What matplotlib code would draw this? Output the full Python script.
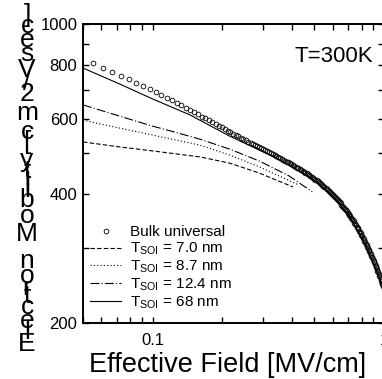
import matplotlib
matplotlib.use("Agg")
import matplotlib.pyplot as plt
from matplotlib.font_manager import FontProperties
from matplotlib.ticker import NullFormatter

plt.rcParams['font.family'] = ['Liberation Sans', 'DejaVu Sans']
plt.rcParams['mathtext.fontset'] = 'custom'
plt.rcParams['mathtext.rm'] = 'Liberation Sans'
plt.rcParams['mathtext.it'] = 'Liberation Sans:italic'

# Bulk universal curve (circles), effective field in MV/cm, mobility in cm2/Vs
bulk_e = [0.055, 0.061, 0.067, 0.073, 0.079, 0.085, 0.091, 0.097, 0.103, 0.109,
          0.115, 0.121, 0.127, 0.133, 0.139, 0.145, 0.151, 0.157, 0.163, 0.169,
          0.175, 0.181, 0.187, 0.193, 0.199, 0.205, 0.211, 0.217, 0.223, 0.229,
          0.235, 0.241, 0.247, 0.253, 0.259, 0.265, 0.271, 0.277, 0.283, 0.289,
          0.295, 0.301, 0.307, 0.313, 0.319, 0.325, 0.331, 0.337, 0.343, 0.349,
          0.355, 0.361, 0.367, 0.373, 0.379, 0.385, 0.391, 0.397, 0.403, 0.409,
          0.415, 0.421, 0.427, 0.433, 0.439, 0.445, 0.451, 0.457, 0.463, 0.469,
          0.475, 0.481, 0.487, 0.493, 0.499, 0.505, 0.511, 0.517, 0.523, 0.529,
          0.535, 0.541, 0.547, 0.553, 0.559, 0.565, 0.571, 0.577, 0.583, 0.589,
          0.595, 0.601, 0.607, 0.613, 0.619, 0.625, 0.631, 0.637, 0.643, 0.649,
          0.655, 0.661, 0.667, 0.673, 0.679, 0.685, 0.691, 0.697, 0.703, 0.709,
          0.715, 0.721, 0.727, 0.733, 0.739, 0.745, 0.751, 0.757, 0.763, 0.769,
          0.775, 0.781, 0.787, 0.793, 0.799, 0.805, 0.811, 0.817, 0.823, 0.829,
          0.835, 0.841, 0.847, 0.853, 0.859, 0.865, 0.871, 0.877, 0.883, 0.889,
          0.895, 0.901, 0.907, 0.913, 0.919, 0.925, 0.931, 0.937, 0.943, 0.949,
          0.955, 0.961, 0.967, 0.973, 0.979, 0.985, 0.991, 0.997]
bulk_mu = [811.0, 790.7, 772.7, 756.7, 742.2, 729.0, 716.9, 705.7, 695.0, 683.6,
           672.9, 663.0, 653.7, 644.9, 636.6, 628.8, 621.4, 614.4, 607.7, 601.3,
           595.2, 589.3, 583.7, 578.4, 573.2, 568.2, 563.5, 558.9, 554.4, 550.1,
           546.0, 542.0, 538.2, 534.5, 531.0, 527.5, 524.2, 521.0, 517.9, 514.8,
           511.9, 509.0, 506.2, 503.5, 500.8, 498.2, 495.7, 493.2, 490.8, 488.3,
           486.0, 483.7, 481.4, 479.1, 476.9, 474.7, 472.5, 470.3, 468.1, 466.0,
           463.9, 461.8, 459.7, 457.6, 455.5, 453.5, 451.4, 449.3, 447.3, 445.2,
           443.1, 441.1, 439.0, 436.9, 434.9, 432.8, 430.7, 428.6, 426.5, 424.4,
           422.3, 420.2, 418.1, 416.0, 413.8, 411.7, 409.5, 407.4, 405.2, 403.0,
           400.8, 398.6, 396.4, 394.2, 392.0, 389.7, 387.5, 385.2, 383.0, 380.7,
           378.4, 376.1, 373.8, 371.5, 369.2, 366.9, 364.5, 362.2, 359.8, 357.5,
           355.1, 352.7, 350.3, 348.0, 345.6, 343.2, 340.8, 338.3, 335.9, 333.5,
           331.1, 328.7, 326.2, 323.8, 321.4, 318.9, 316.5, 314.0, 311.6, 309.1,
           306.7, 304.2, 301.8, 299.3, 296.9, 294.4, 292.0, 289.5, 287.1, 284.6,
           282.2, 279.8, 277.3, 274.9, 272.5, 270.0, 267.6, 265.2, 262.8, 260.4,
           258.0, 255.6, 253.2, 250.8, 248.4, 246.1, 243.7, 241.3]

# SOI films
e_68 = [0.05, 0.072, 0.1, 0.145, 0.215, 0.29, 0.355, 0.43, 0.49, 0.6, 0.71, 0.84, 0.98, 1.0]
mu_68 = [789, 724, 668, 613, 547, 507, 481, 453, 434, 396, 356, 301, 247, 239]
e_124 = [0.05, 0.072, 0.1, 0.1245, 0.16, 0.215, 0.29, 0.39, 0.49]
mu_124 = [647, 609, 577, 559, 538, 510, 478, 441, 405]
e_87 = [0.05, 0.072, 0.1, 0.16, 0.215, 0.29, 0.43]
mu_87 = [596, 571, 550, 521, 494, 463, 420]
e_70 = [0.05, 0.072, 0.1, 0.16, 0.215, 0.29, 0.404]
mu_70 = [530, 516, 505, 489, 473, 448, 416]

y_ticks = [200, 400, 600, 800, 1000]
y_minor = [300, 500, 700, 900]
x_ticks = [0.1, 1]
x_labels = ['0.1', '1']
x_minor = [0.05, 0.06, 0.07, 0.08, 0.09, 0.2, 0.3, 0.4, 0.5, 0.6, 0.7, 0.8, 0.9]

fig = plt.figure(figsize=(3.82, 3.79), dpi=100)
ax = fig.add_axes([83 / 382, 56 / 379, 301 / 382, 299 / 379])

ax.plot(bulk_e, bulk_mu, 'o', ms=3.4, mfc='none', mec='black', mew=0.6, label='Bulk universal')
ax.plot(e_70, mu_70, color='black', lw=0.8, ls=(0, (4, 2)), label=r'T$_{\rm SOI}$ = 7.0 nm')
ax.plot(e_87, mu_87, color='black', lw=0.8, ls=(0, (1, 2)), label=r'T$_{\rm SOI}$ = 8.7 nm')
ax.plot(e_124, mu_124, color='black', lw=0.8, ls=(0, (8, 2, 1, 2)), label=r'T$_{\rm SOI}$ = 12.4 nm')
ax.plot(e_68, mu_68, color='black', lw=0.8, label=r'T$_{\rm SOI}$ = 68 nm')

ax.set_xscale('log')
ax.set_yscale('log')
ax.set_xlim(0.05, 1.0)
ax.set_ylim(200, 1000)
ax.set_yticks(y_ticks)
ax.set_yticklabels([str(v) for v in y_ticks])
ax.set_yticks(y_minor, minor=True)
ax.set_xticks(x_ticks)
ax.set_xticklabels(x_labels)
ax.set_xticks(x_minor, minor=True)
ax.xaxis.set_minor_formatter(NullFormatter())
ax.yaxis.set_minor_formatter(NullFormatter())
ax.tick_params(which='both', direction='in', top=True, right=True, length=4, width=1)
ax.tick_params(axis='y', labelsize=12, pad=4)
ax.tick_params(axis='x', labelsize=12, pad=7)
for s in ax.spines.values():
    s.set_linewidth(1.4)

fig.text(228 / 382, 7 / 379, 'Effective Field [MV/cm]', ha='center', va='baseline', fontsize=19.5)
ax.text(0.963, 0.89, 'T=300K', transform=ax.transAxes, ha='right', va='center', fontsize=16)

ax.legend(loc='lower left', bbox_to_anchor=(0.024, 0.04), frameon=False, fontsize=11,
          borderpad=0, handlelength=2, handletextpad=0.6, labelspacing=0.1, borderaxespad=0)

# stacked y label, one upright glyph per character
ylabel_text = "Electron Mobility [cm2/Vsec]"
fp = FontProperties(family='Liberation Sans', size=19)
renderer = fig.canvas.get_renderer()
w0 = renderer.get_text_width_height_descent('xx', fp, ismath=False)[0]
y0 = 379 - 353
for ch in ylabel_text:
    a = (renderer.get_text_width_height_descent('x' + ch + 'x', fp, ismath=False)[0] - w0) * 1.03
    fig.text(27 / 382, (y0 + a / 2) / 379, ch, ha='center', va='center', fontproperties=fp)
    y0 += a

fig.savefig('out.png', dpi=100)
